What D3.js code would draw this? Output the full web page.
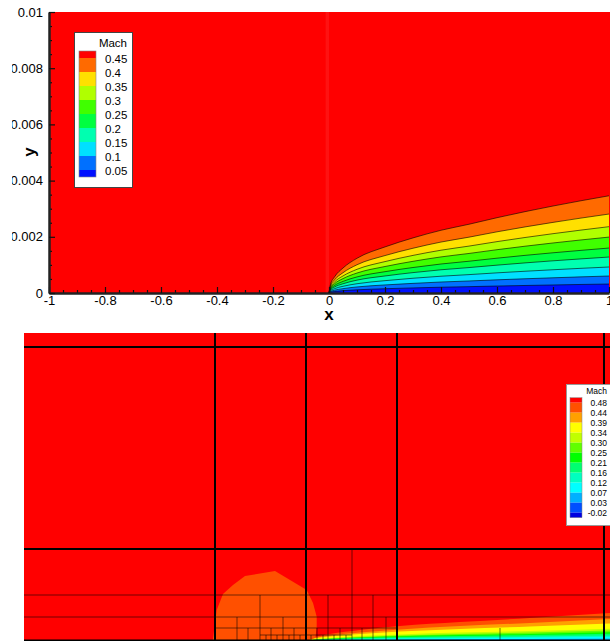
<!DOCTYPE html>
<html><head><meta charset="utf-8">
<script src="https://cdn.jsdelivr.net/npm/d3@7"></script>
<style>
body{margin:0;background:#fff}
svg{display:block;font-family:"Liberation Sans",Arial,Helvetica,sans-serif}
</style>
</head><body>
<svg id="chart" width="610" height="641"></svg>
<script>
// ---------------- DATA (top panel: Mach contours, flat plate) ----------------
const topXTicks  = [-1,-0.8,-0.6,-0.4,-0.2,0,0.2,0.4,0.6,0.8,1];
const topXLabels = ["-1","-0.8","-0.6","-0.4","-0.2","0","0.2","0.4","0.6","0.8","1"];
const topYTicks  = [0,0.002,0.004,0.006,0.008,0.01];
const topYLabels = ["0","0.002","0.004","0.006","0.008","0.01"];

const topLevels = [0.45,0.4,0.35,0.3,0.25,0.2,0.15,0.1,0.05];
const topLevelLabels = ["0.45","0.4","0.35","0.3","0.25","0.2","0.15","0.1","0.05"];
const topColors = ["#FF0000","#FF6A00","#FFE000","#B0FF00","#40FF00","#00FF40","#00FFB0","#00E0FF","#0070FF","#0010FF"];

// x stations along the plate and contour heights (units of 1e-4)
const blX  = [0,0.005,0.02,0.05,0.1,0.2,0.3,0.4,0.5,0.6,0.7,0.8,0.9,1.0];
const h045 = [0,2.94,5.77,8.90,12.36,16.40,19.61,22.32,24.47,26.80,28.95,30.95,32.83,34.6];
const h040 = [0,2.39,4.68,7.22,10.05,13.32,15.93,18.13,19.87,21.77,23.51,25.13,26.66,28.1];
const h035 = [0,2.00,3.94,6.07,8.43,11.18,13.38,15.23,16.69,18.28,19.75,21.11,22.39,23.6];
const h030 = [0,1.69,3.32,5.12,7.11,9.43,11.28,12.84,14.07,15.41,16.65,17.80,18.88,19.9];
const h025 = [0,1.36,2.67,4.12,5.72,7.59,9.07,10.32,11.31,12.39,13.39,14.31,15.18,16.0];
const h020 = [0,1.08,2.14,3.29,4.58,6.06,7.26,8.26,9.05,9.91,10.71,11.45,12.14,12.8];
const h015 = [0,0.78,1.55,2.38,3.30,4.39,5.25,5.97,6.54,7.17,7.74,8.27,8.78,9.25];
const h010 = [0,0.52,1.01,1.55,2.16,2.87,3.43,3.91,4.28,4.69,5.06,5.41,5.74,6.05];
const h005 = [0,0.28,0.53,0.83,1.14,1.52,1.81,2.06,2.26,2.48,2.68,2.86,3.04,3.2];

// ---------------- DATA (bottom panel: zoom near leading edge) ----------------
const botLevelLabels = ["0.48","0.44","0.39","0.34","0.30","0.25","0.21","0.16","0.12","0.07","0.03","-0.02"];
const botColors = ["#FF0000","#FF5000","#FFA000","#FFFF00","#C0FF00","#60FF00","#00FF00","#00FF70","#00FFC0","#00FFFF","#00B0FF","#0050FF","#0000E0"];

const bX   = [0,0.09,0.24,0.54,0.94,1.54,2.24,3.04];
const b048 = [0,0.04,0.07,0.11,0.15,0.19,0.23,0.28];
const b044 = [0,0.03,0.055,0.085,0.115,0.15,0.18,0.22];
const b039 = [0,0.025,0.045,0.07,0.095,0.12,0.145,0.175];
const b034 = [0,0.018,0.03,0.05,0.066,0.084,0.10,0.123];
const b030 = [0,0.015,0.026,0.041,0.056,0.07,0.085,0.104];
const b025 = [0,0.012,0.022,0.034,0.047,0.059,0.071,0.087];
const b021 = [0,0.010,0.018,0.029,0.039,0.049,0.060,0.073];
const b016 = [0,0.008,0.014,0.022,0.030,0.038,0.046,0.056];
const b012 = [0,0.006,0.010,0.016,0.022,0.028,0.034,0.042];
const b007 = [0,0.004,0.006,0.010,0.013,0.017,0.021,0.025];
const b003 = [0,0.002,0.003,0.004,0.006,0.008,0.009,0.011];

// region of slightly lower Mach ahead of the leading edge
const blobX = [-0.933,-0.893,-0.83,-0.73,-0.61,-0.31,-0.093,0.007,0.07,0.107,0.107,0.09];
const blobY = [0,0.31,0.47,0.56,0.65,0.70,0.57,0.51,0.38,0.243,0.14,0];

// mesh block lines [x1,y1,x2,y2]
const meshThick = [
  [-0.91,0,-0.91,3.08],[0,0,0,3.08],[0.91,0,0.91,3.08],[2.98,0,2.98,3.08],
  [-2.82,2.94,3.04,2.94],[-2.82,0.92,3.04,0.92]
];
const meshThin = [
  [-2.82,0.46,3.04,0.46],[-2.82,0.24,3.04,0.24],[-0.91,0.13,0.91,0.13],[-0.46,0.06,0.46,0.06],
  [-0.46,0,-0.46,0.46],[0.22,0,0.22,0.46],[0.46,0,0.46,0.92],[0.67,0,0.67,0.46],
  [-0.69,0,-0.69,0.24],[-0.23,0,-0.23,0.24],[0.80,0,0.80,0.24],[1.94,0,1.94,0.13],
  [-0.58,0,-0.58,0.13],[-0.35,0,-0.35,0.13],[-0.12,0,-0.12,0.13],[0.11,0,0.11,0.13],[0.34,0,0.34,0.13],[0.56,0,0.56,0.13],
  [-0.40,0,-0.40,0.06],[-0.29,0,-0.29,0.06],[-0.17,0,-0.17,0.06],[-0.06,0,-0.06,0.06],
  [0.05,0,0.05,0.06],[0.17,0,0.17,0.06],[0.28,0,0.28,0.06],[0.40,0,0.40,0.06]
];

// ---------------- DRAW ----------------
const svg = d3.select("#chart");

// ===== TOP PANEL =====
const xT = d3.scaleLinear().domain([-1,1]).range([49,609]);
const yT = d3.scaleLinear().domain([0,0.01]).range([293,12]);

svg.append("clipPath").attr("id","clipTop").append("rect")
  .attr("x",xT(-1)).attr("y",yT(0.01)).attr("width",611-xT(-1)).attr("height",yT(0)-yT(0.01));
const gTop = svg.append("g").attr("clip-path","url(#clipTop)");
gTop.append("rect").attr("x",xT(-1)).attr("y",yT(0.01)).attr("width",611-xT(-1)).attr("height",yT(0)-yT(0.01)).attr("fill",topColors[0]);
// faint lighter line just ahead of the leading edge
gTop.append("rect").attr("x",xT(-0.012)).attr("y",yT(0.01)).attr("width",xT(0)-xT(-0.012)).attr("height",yT(0)-yT(0.01))
  .attr("fill","#fff").attr("opacity",0.07);

const topContours = [h045,h040,h035,h030,h025,h020,h015,h010,h005];
const areaT = d3.area().curve(d3.curveMonotoneX);
const lineT = d3.line().curve(d3.curveMonotoneX);
topContours.forEach((h,k)=>{
  const pts = blX.map((x,i)=>[x,h[i]*1e-4]);
  gTop.append("path")
    .attr("d", areaT.x(d=>xT(d[0])).y0(yT(0)).y1(d=>yT(d[1]))(pts))
    .attr("fill", topColors[k+1]);
});
topContours.forEach((h)=>{
  const pts = blX.map((x,i)=>[x,h[i]*1e-4]);
  gTop.append("path")
    .attr("d", lineT.x(d=>xT(d[0])).y(d=>yT(d[1]))(pts))
    .attr("fill","none").attr("stroke","#000").attr("stroke-width",0.8).attr("stroke-opacity",0.75);
});

// axes
const minorX = d3.range(-1,1.0001,0.05).filter(v=>Math.abs(Math.round(v*5)-v*5)>1e-6);
const minorY = d3.range(0,0.01001,0.0005).filter(v=>Math.abs(Math.round(v*500)-v*500)>1e-6);

const gxMinor = svg.append("g").attr("transform",`translate(0,${yT(0)})`)
  .call(d3.axisBottom(xT).tickValues(minorX).tickFormat("").tickSizeInner(-3).tickSizeOuter(0));
const gx = svg.append("g").attr("transform",`translate(0,${yT(0)})`)
  .call(d3.axisBottom(xT).tickValues(topXTicks).tickFormat((d,i)=>topXLabels[i]).tickSizeInner(-6).tickSizeOuter(0).tickPadding(3));
const gyMinor = svg.append("g").attr("transform",`translate(${xT(-1)},0)`)
  .call(d3.axisLeft(yT).tickValues(minorY).tickFormat("").tickSizeInner(-3).tickSizeOuter(0));
const gy = svg.append("g").attr("transform",`translate(${xT(-1)},0)`)
  .call(d3.axisLeft(yT).tickValues(topYTicks).tickFormat((d,i)=>topYLabels[i]).tickSizeInner(-6).tickSizeOuter(0).tickPadding(6));

[gxMinor,gx,gyMinor,gy].forEach(g=>{
  g.select(".domain").attr("stroke","#222").attr("stroke-width",2);
  g.selectAll(".tick line").attr("stroke","#111").attr("stroke-width",1.2);
  g.selectAll(".tick text").attr("fill","#000").attr("font-size",13).attr("font-family","Liberation Sans, Arial, sans-serif");
});

// the source figure is cropped at the left, cutting the long y labels
svg.append("rect").attr("x",0).attr("y",0).attr("width",12).attr("height",320).attr("fill","#fff");

svg.append("text").attr("x",xT(0)).attr("y",320).attr("text-anchor","middle")
  .attr("font-size",17).attr("font-weight","bold").text("x");
svg.append("text").attr("transform","translate(35,152) rotate(-90)").attr("text-anchor","middle")
  .attr("font-size",17).attr("font-weight","bold").text("y");

// top legend
const legT = svg.append("g");
legT.append("rect").attr("x",74.5).attr("y",32.5).attr("width",58).attr("height",155)
  .attr("fill","#fff").attr("stroke","#444").attr("stroke-width",1);
legT.append("text").attr("x",127).attr("y",47).attr("text-anchor","end").attr("font-size",11.5).text("Mach");
const swT = d3.scaleLinear().domain([0,topLevels.length-1]).range([58,170]);
topColors.forEach((c,i)=>{
  const y0 = i===0 ? swT(0)-7 : swT(i-1);
  const y1 = i===topColors.length-1 ? swT(topLevels.length-1)+7 : swT(i);
  legT.append("rect").attr("x",79).attr("y",y0).attr("width",17).attr("height",y1-y0).attr("fill",c);
});
legT.append("rect").attr("x",79).attr("y",swT(0)-7).attr("width",17).attr("height",swT(topLevels.length-1)-swT(0)+14)
  .attr("fill","none").attr("stroke","#888").attr("stroke-width",0.6);
topLevelLabels.forEach((t,i)=>{
  legT.append("text").attr("x",105).attr("y",swT(i)+4+1).attr("font-size",11.5).text(t);
});

// ===== BOTTOM PANEL =====
const xB = d3.scaleLinear().domain([-2.82,3.04]).range([24,610]);
const yB = d3.scaleLinear().domain([0,3.08]).range([641,333]);

svg.append("clipPath").attr("id","clipBot").append("rect")
  .attr("x",xB(-2.82)).attr("y",yB(3.08)).attr("width",xB(3.04)-xB(-2.82)+1).attr("height",yB(0)-yB(3.08));
const gBot = svg.append("g").attr("clip-path","url(#clipBot)");
gBot.append("rect").attr("x",xB(-2.82)).attr("y",yB(3.08)).attr("width",xB(3.04)-xB(-2.82)+1).attr("height",yB(0)-yB(3.08))
  .attr("fill",botColors[0]);

// blob
gBot.append("path")
  .attr("d", d3.line().curve(d3.curveLinearClosed)(blobX.map((x,i)=>[xB(x),yB(blobY[i])])))
  .attr("fill",botColors[1]);

// boundary-layer bands
const botContours = [b048,b044,b039,b034,b030,b025,b021,b016,b012,b007,b003];
botContours.forEach((h,k)=>{
  const pts = bX.map((x,i)=>[x,h[i]]);
  gBot.append("path")
    .attr("d", d3.area().curve(d3.curveMonotoneX).x(d=>xB(d[0])).y0(yB(0)+1).y1(d=>yB(d[1]))(pts))
    .attr("fill", botColors[k+1]);
});

// mesh lines
meshThin.forEach(s=>{
  gBot.append("line").attr("x1",xB(s[0])).attr("y1",yB(s[1])).attr("x2",xB(s[2])).attr("y2",yB(s[3]))
    .attr("stroke","#000").attr("stroke-opacity",0.55).attr("stroke-width",1);
});
meshThick.forEach(s=>{
  gBot.append("line").attr("x1",xB(s[0])).attr("y1",yB(s[1])).attr("x2",xB(s[2])).attr("y2",yB(s[3]))
    .attr("stroke","#000").attr("stroke-width",2);
});
gBot.append("line").attr("x1",xB(-2.82)).attr("y1",yB(0)-0.5).attr("x2",xB(3.04)).attr("y2",yB(0)-0.5)
  .attr("stroke","#000").attr("stroke-width",2);

// bottom legend
const legB = svg.append("g");
legB.append("rect").attr("x",566.5).attr("y",384.5).attr("width",50).attr("height",141)
  .attr("fill","#fff").attr("stroke","#999").attr("stroke-width",1);
legB.append("text").attr("x",607).attr("y",394).attr("text-anchor","end").attr("font-size",8.5).text("Mach");
const swB = d3.scaleLinear().domain([0,botLevelLabels.length-1]).range([402.7,512.7]);
botColors.forEach((c,i)=>{
  const y0 = i===0 ? swB(0)-5 : swB(i-1);
  const y1 = i===botColors.length-1 ? swB(botLevelLabels.length-1)+5 : swB(i);
  legB.append("rect").attr("x",570).attr("y",y0).attr("width",12).attr("height",y1-y0).attr("fill",c);
});
legB.append("rect").attr("x",570).attr("y",swB(0)-5).attr("width",12).attr("height",swB(botLevelLabels.length-1)-swB(0)+10)
  .attr("fill","none").attr("stroke","#888").attr("stroke-width",0.5);
botLevelLabels.forEach((t,i)=>{
  legB.append("text").attr("x",607).attr("y",swB(i)+3.5).attr("text-anchor","end").attr("font-size",8.5).text(t);
});
</script>
</body></html>
